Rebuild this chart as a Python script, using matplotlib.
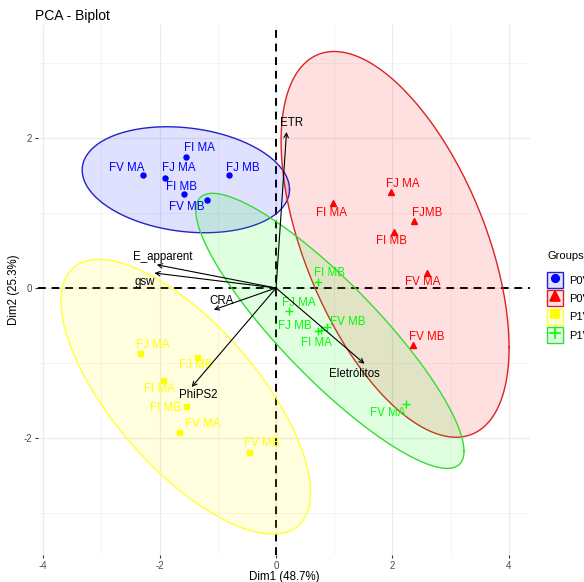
import numpy as np
import matplotlib
matplotlib.use("Agg")
import matplotlib.pyplot as plt
from matplotlib.patches import Patch
from matplotlib.lines import Line2D
from matplotlib.legend_handler import HandlerTuple

plt.rcParams['font.family'] = ['Liberation Sans', 'DejaVu Sans']
plt.rcParams['axes.unicode_minus'] = False

# individuals (Dim1, Dim2) per group
groups = ["P0V1", "P0V2", "P1V1", "P1V2"]
names_p0v1 = ["FV MA", "FI MA", "FJ MA", "FJ MB", "FI MB", "FV MB"]
x_p0v1 = [-2.29, -1.54, -1.90, -0.80, -1.59, -1.18]
y_p0v1 = [1.51, 1.75, 1.47, 1.51, 1.25, 1.17]

names_p0v2 = ["FJ MA", "FI MA", "FJMB", "FI MB", "FV MA", "FV MB"]
x_p0v2 = [1.97, 0.97, 2.37, 2.02, 2.59, 2.35]
y_p0v2 = [1.28, 1.13, 0.89, 0.75, 0.20, -0.76]

names_p1v1 = ["FJ MA", "FJ MB", "FI MA", "FI MB", "FV MA", "FV MB"]
x_p1v1 = [-2.33, -1.35, -1.95, -1.55, -1.66, -0.47]
y_p1v1 = [-0.87, -0.92, -1.23, -1.57, -1.92, -2.19]

names_p1v2 = ["FI MB", "FJ MA", "FJ MB", "FI MA", "FV MB", "FV MA"]
x_p1v2 = [0.72, 0.23, 0.72, 0.78, 0.87, 2.23]
y_p1v2 = [0.08, -0.31, -0.57, -0.56, -0.52, -1.55]

# variables (arrows)
var_names = ["ETR", "E_apparent", "gsw", "CRA", "PhiPS2", "Eletrólitos"]
var_x = [0.18, -2.05, -2.09, -1.07, -1.45, 1.52]
var_y = [2.08, 0.31, 0.20, -0.29, -1.32, -1.01]

# label offsets in pixels (repel-like placement)
off_p0v1 = [(-16, 7), (13, 9), (13, 10), (13, 7), (-2, 7), (-21, -7)]
off_p0v2 = [(12, 8), (-1, -10), (13, 8), (-2, -9), (-4, -9), (14, 8)]
off_p1v1 = [(12, 8), (-2, -8), (-3, -9), (-20, -2), (23, 8), (13, 9)]
off_p1v2 = [(12, 9), (9, 8), (-23, 5), (-5, -13), (21, 5), (-18, -9)]
off_var = [(5, 9), (6, 8), (-10, -9), (8, 9), (7, -8), (-10, -10)]

cols = ["#0000FF", "#FF0000", "#FFFF00", "#00FF00"]
edge_cols = ["#2222CC", "#DD2222", "#FFFF33", "#33DD33"]
markers = ["o", "^", "s", "+"]
msizes = [3.6, 4.6, 3.6, 6]

data = [(names_p0v1, x_p0v1, y_p0v1, off_p0v1),
        (names_p0v2, x_p0v2, y_p0v2, off_p0v2),
        (names_p1v1, x_p1v1, y_p1v1, off_p1v1),
        (names_p1v2, x_p1v2, y_p1v2, off_p1v2)]


def norm_ellipse(x, y, n=200):
    # same idea as ggplot2 stat_ellipse(type = "norm", level = 0.95)
    pts = np.column_stack([x, y])
    c = pts.mean(axis=0)
    cov = np.cov(pts.T)
    fq = 5.786135  # qf(0.95, 2, 5), 6 points per group
    r = np.sqrt(2 * fq)
    t = np.linspace(0, 2 * np.pi, n)
    circ = np.column_stack([np.cos(t), np.sin(t)])
    L = np.linalg.cholesky(cov)
    e = c + r * circ @ L.T
    return e[:, 0], e[:, 1]


fig = plt.figure(figsize=(5.84, 5.82), dpi=100)
ax = fig.add_axes([0.0651, 0.0464, 0.8425, 0.9107])
ax.set_xlim(-4.09, 4.364)
ax.set_ylim(-3.56, 3.507)

for s in ax.spines.values():
    s.set_visible(False)
ax.set_xticks([-4, -2, 0, 2, 4])
ax.set_yticks([-2, 0, 2])
ax.set_xticks([-3, -1, 1, 3], minor=True)
ax.set_yticks([-3, -1, 1, 3], minor=True)
ax.grid(which='major', color='#EBEBEB', lw=0.9, zorder=0)
ax.grid(which='minor', color='#F2F2F2', lw=0.6, zorder=0)
ax.tick_params(which='major', length=2.5, width=0.8, color='#333333',
               labelsize=7, labelcolor='#4D4D4D', pad=2)
ax.tick_params(which='minor', length=0)
ax.set_axisbelow(True)

ax.axhline(0, color='black', ls=(0, (4, 3)), lw=1.4, zorder=1)
ax.axvline(0, color='black', ls=(0, (4, 3)), lw=1.4, zorder=1)

for i, (nm, xs, ys, offs) in enumerate(data):
    ax.plot(xs, ys, ls='', marker=markers[i], color=cols[i], ms=msizes[i],
            mew=1.0, zorder=3)
    for j in range(len(nm)):
        ax.annotate(nm[j], (xs[j], ys[j]), xytext=offs[j], textcoords='offset pixels',
                    ha='center', va='center', fontsize=8.3, color=cols[i], zorder=4)
    ex, ey = norm_ellipse(xs, ys)
    ax.fill(ex, ey, color=cols[i], alpha=0.12, lw=0, zorder=2)
    ax.plot(ex, ey, color=edge_cols[i], lw=1.0, zorder=2)

for k in range(len(var_names)):
    ax.annotate("", xy=(var_x[k], var_y[k]), xytext=(0, 0),
                arrowprops=dict(arrowstyle='->', color='black', lw=0.8,
                                shrinkA=0, shrinkB=0, mutation_scale=8), zorder=5)
    ax.annotate(var_names[k], (var_x[k], var_y[k]), xytext=off_var[k],
                textcoords='offset pixels', ha='center', va='center',
                fontsize=8.3, color='black', zorder=6)

ax.set_xlabel("Dim1 (48.7%)", fontsize=8.3)
ax.set_ylabel("Dim2 (25.3%)", fontsize=8.3)
ax.xaxis.set_label_coords(0.5, -0.030)
ax.yaxis.set_label_coords(-0.037, 0.5)
fig.text(35 / 584, 1 - 16 / 582, "PCA - Biplot", fontsize=10, ha='left', va='center')

# legend (title drawn separately, labels run off the right edge like the original)
fig.text(548 / 584, 1 - 256 / 582, "Groups", fontsize=8, ha='left', va='center')
handles = []
for i in range(4):
    p = Patch(facecolor=matplotlib.colors.to_rgba(cols[i], 0.12), edgecolor=edge_cols[i], lw=1.0)
    m = Line2D([], [], ls='', marker=markers[i], color=cols[i], ms=msizes[i] * 1.5, mew=1.2)
    handles.append((p, m))
leg = fig.legend(handles, groups, handler_map={tuple: HandlerTuple(ndivide=1)},
                 loc='upper left', bbox_to_anchor=(547 / 584, 1 - 272 / 582),
                 frameon=False, fontsize=8,
                 handlelength=1.45, handleheight=1.85, handletextpad=0.5,
                 labelspacing=0.2, borderpad=0, borderaxespad=0)

fig.savefig("out.png", dpi=100)
